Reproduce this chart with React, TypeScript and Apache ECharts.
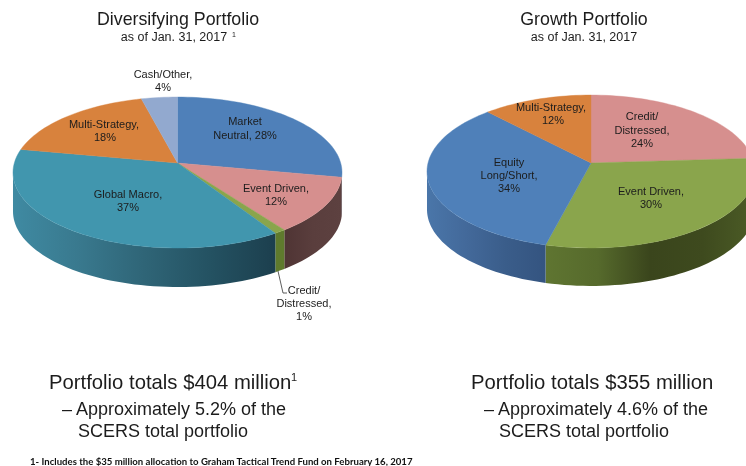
import React, { useEffect, useRef } from "react";
import * as echarts from "echarts";

const diversifyingNames = ["Market Neutral", "Event Driven", "Credit/Distressed", "Global Macro", "Multi-Strategy", "Cash/Other"];
const diversifyingValues = [28, 12, 1, 37, 18, 4];
const growthNames = ["Credit/Distressed", "Event Driven", "Equity Long/Short", "Multi-Strategy"];
const growthValues = [24, 30, 34, 12];

const BLUE = "#4f80b9";
const PINK = "#d68f8e";
const GREEN = "#8aa54c";
const TEAL = "#4196ae";
const ORANGE = "#d8823d";
const LILAC = "#92a9cf";

const grad = (stops: string[]) =>
  new echarts.graphic.LinearGradient(0, 0, 1, 0, stops.map((color, i) => ({ offset: i / (stops.length - 1), color })));

const diversifyingTops = [BLUE, PINK, GREEN, TEAL, ORANGE, LILAC];
const diversifyingWalls = [
  "#39597f",
  grad(["#4f3434", "#5a3e3d", "#5d4140"]),
  "#5f7a2d",
  grad(["#3f8aa2", "#39798e", "#2f6577", "#245262", "#1c3f4e"]),
  "#8a5326",
  "#5f6e88",
];
const growthTops = [PINK, GREEN, BLUE, ORANGE];
const growthWalls = [
  "#5a3e3d",
  grad(["#5f7531", "#566a2c", "#3a451c", "#3e4a1e", "#4c5c26"]),
  grad(["#4a76a9", "#43699a", "#3a5d8a", "#345480"]),
  "#8a5326",
];

const pieSeries = (
  values: number[],
  names: string[],
  tops: string[],
  walls: any[],
  cx: number,
  cy: number,
  R: number,
  S: number,
  p: number,
  depth: number
) => {
  const total = values.reduce((a, b) => a + b, 0);
  const rim = (deg: number): [number, number] => {
    const t = (deg * Math.PI) / 180;
    const d = 1 + p * Math.cos(t);
    return [cx + (R * Math.sin(t)) / d, cy - (S * Math.cos(t)) / d];
  };
  const arc = (a: number, b: number) => {
    const n = Math.max(2, Math.ceil((b - a) / 2));
    const pts: [number, number][] = [];
    for (let k = 0; k <= n; k++) pts.push(rim(a + ((b - a) * k) / n));
    return pts;
  };
  return {
    type: "custom",
    coordinateSystem: "none",
    silent: true,
    clip: false,
    z: 2,
    data: values.map((v, i) => ({ name: names[i], value: [v] })),
    renderItem: (params: any) => {
      const i = params.dataIndex;
      const before = values.slice(0, i).reduce((a, b) => a + b, 0);
      const a = (before / total) * 360;
      const b = ((before + values[i]) / total) * 360;
      const children: any[] = [];
      const lo = Math.max(a, 97);
      const hi = Math.min(b, 263);
      if (hi > lo) {
        const top = arc(lo, hi);
        const bottom = top.map(([x, y]) => [x, y + depth]).reverse();
        children.push({
          type: "polygon",
          shape: { points: [...top, ...bottom] },
          style: { fill: walls[i], stroke: null },
        });
      }
      children.push({
        type: "polygon",
        shape: { points: [[cx, cy], ...arc(a, b)] },
        style: { fill: tops[i], stroke: tops[i], lineWidth: 0.4 },
      });
      return { type: "group", children };
    },
  };
};

const text = (t: string, x: number, y: number, size: number, align = "center", extra: any = {}) => ({
  type: "text",
  x,
  y,
  z: 100,
  silent: true,
  style: {
    text: t,
    fontFamily: "Liberation Sans",
    fontSize: size,
    fill: "#1c1c1c",
    align,
    verticalAlign: "middle",
    ...extra,
  },
});

const sliceLabels = [
  ["Cash/Other,", 163, 74], ["4%", 163, 87],
  ["Market", 245, 121], ["Neutral, 28%", 245, 135],
  ["Event Driven,", 276, 188], ["12%", 276, 201],
  ["Multi-Strategy,", 104, 124], ["18%", 105, 137],
  ["Global Macro,", 128, 194], ["37%", 128, 207],
  ["Credit/", 304, 290], ["Distressed,", 304, 303], ["1%", 304, 316],
  ["Multi-Strategy,", 551, 107], ["12%", 553, 120],
  ["Credit/", 642, 116], ["Distressed,", 642, 130], ["24%", 642, 143],
  ["Event Driven,", 651, 191], ["30%", 651, 204],
  ["Equity", 509, 162], ["Long/Short,", 509, 175], ["34%", 509, 188],
] as [string, number, number][];

export default function App() {
  const ref = useRef<HTMLDivElement>(null);
  useEffect(() => {
    document.body.style.margin = "0";
    document.body.style.background = "#fff";
    const chart = echarts.init(ref.current!, undefined, { renderer: "svg" });
    chart.setOption({
      animation: false,
      backgroundColor: "#ffffff",
      series: [
        pieSeries(diversifyingValues, diversifyingNames, diversifyingTops, diversifyingWalls, 177.5, 163, 163.2, 74.3, 0.126, 39),
        pieSeries(growthValues, growthNames, growthTops, growthWalls, 591, 163, 163, 75.5, 0.111, 38),
      ],
      graphic: {
        z: 100,
        elements: [
          {
            type: "polyline",
            silent: true,
            z: 100,
            shape: { points: [[278, 271], [283, 293], [287, 293]] },
            style: { stroke: "#333", lineWidth: 0.8, fill: null },
          },
          text("Diversifying Portfolio", 178, 19, 17.8),
          text("as of Jan. 31, 2017", 174, 37, 12.5),
          text("1", 234, 34, 7),
          text("Growth Portfolio", 584, 19, 17.8),
          text("as of Jan. 31, 2017", 584, 37, 12.5),
          ...sliceLabels.map(([t, x, y]) => text(t, x, y, 11)),
          text("Portfolio totals $404 million", 49, 382, 20.3, "left"),
          text("1", 291, 377, 11, "left"),
          text("– Approximately 5.2% of the", 62, 409, 18, "left"),
          text("SCERS total portfolio", 78, 431, 18, "left"),
          text("Portfolio totals $355 million", 471, 382, 20.3, "left"),
          text("– Approximately 4.6% of the", 484, 409, 18, "left"),
          text("SCERS total portfolio", 499, 431, 18, "left"),
          text("1- Includes the $35 million allocation to Graham Tactical Trend Fund on February 16, 2017", 30, 461, 9.6, "left", {
            fontFamily: "Lato",
            fontWeight: 700,
            fill: "#111",
          }),
        ],
      },
    });
    return () => chart.dispose();
  }, []);
  return <div ref={ref} style={{ width: 746, height: 466, filter: "blur(0.4px)" }} />;
}
